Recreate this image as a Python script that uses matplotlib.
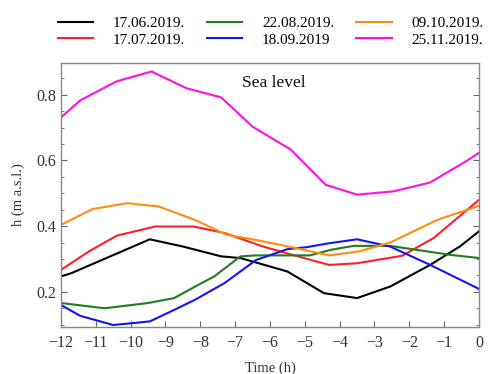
import matplotlib
matplotlib.use("Agg")
import matplotlib.pyplot as plt
from matplotlib.ticker import MultipleLocator

plt.rcParams['font.family'] = ['Liberation Serif', 'DejaVu Serif']

# hours before high water, sea level in m a.s.l.
t_jun = [-12, -11.7, -9.45, -8.5, -7.4, -6.85, -5.5, -4.45, -3.5, -2.55, -1.4, -0.55, 0]
h_jun = [0.247, 0.257, 0.360, 0.338, 0.308, 0.303, 0.262, 0.196, 0.181, 0.216, 0.282, 0.338, 0.384]

t_jul = [-12, -11.2, -10.4, -9.3, -8.2, -7.3, -6.2, -5.2, -4.3, -3.5, -2.2, -1.3, 0]
h_jul = [0.267, 0.323, 0.371, 0.399, 0.399, 0.379, 0.338, 0.308, 0.282, 0.287, 0.310, 0.364, 0.480]

t_aug = [-12, -10.75, -9.5, -8.75, -8.15, -7.6, -6.85, -6.4, -4.85, -4.25, -3.6, -2.55, -0.85, 0]
h_aug = [0.166, 0.150, 0.166, 0.181, 0.216, 0.247, 0.308, 0.311, 0.311, 0.328, 0.340, 0.340, 0.313, 0.303]

t_sep = [-12, -11.45, -10.5, -9.45, -8.75, -8.15, -7.3, -6.4, -5.5, -4.95, -4.3, -3.5, -2.55, -1.4, 0]
h_sep = [0.160, 0.127, 0.099, 0.110, 0.145, 0.176, 0.227, 0.297, 0.330, 0.336, 0.348, 0.360, 0.338, 0.282, 0.209]

t_oct = [-12, -11.1, -10.1, -9.2, -8.15, -7.25, -6.4, -5.25, -4.3, -3.45, -2.55, -1.2, 0]
h_oct = [0.404, 0.452, 0.470, 0.460, 0.419, 0.374, 0.358, 0.333, 0.311, 0.323, 0.350, 0.419, 0.462]

t_nov = [-12, -11.45, -10.4, -9.4, -8.4, -7.4, -6.5, -5.4, -4.4, -3.5, -2.45, -1.4, -0.35, 0]
h_nov = [0.731, 0.783, 0.841, 0.871, 0.820, 0.792, 0.703, 0.633, 0.526, 0.496, 0.506, 0.533, 0.599, 0.623]

series = [
    (t_jun, h_jun, 'black', '17.06.2019.'),
    (t_jul, h_jul, '#ff1f2a', '17.07.2019.'),
    (t_aug, h_aug, '#1e7d1e', '22.08.2019.'),
    (t_sep, h_sep, '#1515f0', '18.09.2019'),
    (t_oct, h_oct, '#ff8c10', '09.10.2019.'),
    (t_nov, h_nov, '#ff10e0', '25.11.2019.'),
]

fig = plt.figure(figsize=(4.94, 3.74), dpi=100)
ax = fig.add_axes([0.1235, 0.1257, 0.846, 0.706])

for t, h, c, lab in series:
    ax.plot(t, h, color=c, linewidth=1.5, label=lab)

ax.set_xlim(-12, 0)
ax.set_ylim(0.093, 0.897)
ax.xaxis.set_major_locator(MultipleLocator(1))
ax.yaxis.set_major_locator(MultipleLocator(0.2))
ax.yaxis.set_minor_locator(MultipleLocator(0.05))
ax.tick_params(which='both', direction='in', right=True, labelsize=11.5,
               color='#666666', labelcolor='#333333')
ax.tick_params(which='major', length=4, width=0.8)
ax.tick_params(axis='x', pad=6)
ax.tick_params(which='minor', length=2.5, width=0.6)
ax.set_xticks(range(-12, 1))
ax.set_yticks([0.2, 0.4, 0.6, 0.8])
ax.set_yticklabels(['0.2', '0.4', '0.6', '0.8'])
for s in ax.spines.values():
    s.set_color('#888888')
    s.set_linewidth(1.0)

ax.set_xlabel('Time (h)', fontsize=10.5, color='#333333', labelpad=7)
ax.set_ylabel('h (m a.s.l.)', fontsize=10.5, color='#333333', labelpad=8)
ax.text(-6.8, 0.837, 'Sea level', fontsize=12.5, va='center', ha='left', color='#111111')

fig.legend(loc='upper left', bbox_to_anchor=(0.095, 0.985), ncol=3, frameon=False,
           fontsize=11, handlelength=2.3, handletextpad=1.3, columnspacing=1.45,
           labelspacing=0.2, borderaxespad=0.3)

fig.savefig('out.png', dpi=100)
